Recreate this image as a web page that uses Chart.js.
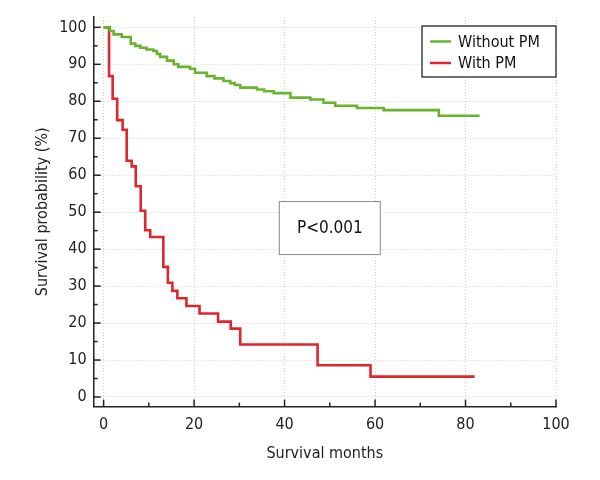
<!DOCTYPE html>
<html>
<head>
<meta charset="utf-8">
<script src="https://cdn.jsdelivr.net/npm/chart.js@4/dist/chart.umd.min.js"></script>
<style>
body { margin: 0; background: #fff; }
</style>
</head>
<body>
<canvas id="myChart" width="600" height="480"></canvas>
<script>
// Kaplan-Meier steps (months, survival %)
const monthsWithout = [0, 1.4, 2.2, 4, 6, 7, 8.1, 9.5, 11, 11.8, 12.5, 14, 15.5, 16.5, 19.1, 20.2, 22.8, 24.5, 26.5, 28, 29, 30.2, 33.9, 35.5, 37.6, 41.3, 45.7, 48.6, 51.2, 56, 61.9, 74.1, 83.1];
const survWithout  = [100, 99, 98.1, 97.4, 95.6, 95, 94.5, 94, 93.6, 92.8, 92, 91, 90, 89.3, 88.8, 87.7, 86.8, 86.2, 85.5, 84.9, 84.4, 83.7, 83.2, 82.7, 82.2, 81, 80.5, 79.6, 78.8, 78.2, 77.6, 76.1, 76.1];

const monthsWith = [0, 1.2, 2.0, 3.0, 4.2, 5.1, 6.2, 7.1, 8.2, 9.2, 10.3, 13.2, 14.2, 15.2, 16.3, 18.3, 21.2, 25.3, 28.1, 30.2, 47.3, 59, 82];
const survWith   = [100, 86.8, 80.7, 74.9, 72.3, 63.9, 62.4, 57, 50.4, 45.1, 43.3, 35.2, 30.9, 28.7, 26.7, 24.6, 22.6, 20.4, 18.5, 14.2, 8.6, 5.5, 5.5];

const seriesNames = ["Without PM", "With PM"];
const seriesColors = ["#69b32f", "#e0262c"];
const xTicks = [0, 20, 40, 60, 80, 100];
const yTicks = [0, 10, 20, 30, 40, 50, 60, 70, 80, 90, 100];
const pText = "P<0.001";

const fam = "'Liberation Sans Narrow', 'DejaVu Sans Condensed', sans-serif";

function toPoints(xs, ys) {
    return xs.map((x, i) => ({x: x, y: ys[i]}));
}

// inward tick marks, legend box and p-value box
const extras = {
    id: 'extras',
    afterDraw(chart) {
        const ctx = chart.ctx;
        const xs = chart.scales.x, ys = chart.scales.y;
        const area = chart.chartArea;
        ctx.save();
        ctx.strokeStyle = '#222';
        ctx.lineWidth = 1.5;
        for (let v = 0; v <= 100; v += 10) {
            const px = xs.getPixelForValue(v);
            const len = (v % 20 === 0) ? 7 : 4;
            ctx.beginPath();
            ctx.moveTo(px, area.bottom);
            ctx.lineTo(px, area.bottom - len);
            ctx.stroke();
        }
        for (let v = 0; v <= 100; v += 5) {
            const py = ys.getPixelForValue(v);
            const len = (v % 10 === 0) ? 7 : 4;
            ctx.beginPath();
            ctx.moveTo(area.left, py);
            ctx.lineTo(area.left + len, py);
            ctx.stroke();
        }

        // legend
        const lw = 134, lh = 51;
        const lx = area.right - lw, ly = area.top + 9;
        ctx.fillStyle = '#fff';
        ctx.fillRect(lx, ly, lw, lh);
        ctx.strokeStyle = '#111';
        ctx.lineWidth = 1.2;
        ctx.strokeRect(lx, ly, lw, lh);
        ctx.font = "16px " + fam;
        ctx.textBaseline = 'middle';
        chart.data.datasets.forEach((ds, i) => {
            const cy = ly + 15.5 + i * 21.5;
            ctx.strokeStyle = ds.borderColor;
            ctx.lineWidth = 2.5;
            ctx.beginPath();
            ctx.moveTo(lx + 8, cy);
            ctx.lineTo(lx + 29, cy);
            ctx.stroke();
            ctx.fillStyle = '#111';
            ctx.fillText(ds.label, lx + 36, cy + 1);
        });

        // p-value box
        const cx = xs.getPixelForValue(50), cy = ys.getPixelForValue(45.7);
        const bw = 101, bh = 53;
        ctx.fillStyle = '#fff';
        ctx.fillRect(cx - bw / 2, cy - bh / 2, bw, bh);
        ctx.strokeStyle = '#888';
        ctx.lineWidth = 1;
        ctx.strokeRect(cx - bw / 2, cy - bh / 2, bw, bh);
        ctx.fillStyle = '#111';
        ctx.textAlign = 'center';
        ctx.font = "17px " + fam;
        ctx.fillText(pText, cx, cy + 1);
        ctx.restore();
    }
};

const myChart = new Chart("myChart", {
    type: "scatter",
    data: {
        datasets: [
            {label: seriesNames[0], data: toPoints(monthsWithout, survWithout), borderColor: seriesColors[0]},
            {label: seriesNames[1], data: toPoints(monthsWith, survWith), borderColor: seriesColors[1]}
        ]
    },
    options: {
        responsive: false,
        animation: false,
        showLine: true,
        elements: {
            point: {radius: 0},
            line: {borderWidth: 2.6, stepped: 'before', fill: false}
        },
        layout: {padding: {left: 29, right: 44, top: 17, bottom: 13}},
        plugins: {
            legend: {display: false},
            tooltip: {enabled: false}
        },
        scales: {
            x: {
                type: 'linear',
                min: -2.2,
                max: 100,
                afterBuildTicks: s => { s.ticks = xTicks.map(v => ({value: v})); },
                grid: {color: '#cfcfcf', drawTicks: false},
                border: {display: true, color: '#222', width: 1.5, dash: [1, 2]},
                ticks: {color: '#222', padding: 9, maxRotation: 0, font: {family: fam, size: 16}},
                title: {display: true, text: 'Survival months', color: '#222', font: {family: fam, size: 16}, padding: {top: 0, bottom: 4}}
            },
            y: {
                type: 'linear',
                min: -2.6,
                max: 102.8,
                afterBuildTicks: s => { s.ticks = yTicks.map(v => ({value: v})); },
                grid: {color: '#cfcfcf', drawTicks: false},
                border: {display: true, color: '#222', width: 1.5, dash: [1, 2]},
                ticks: {color: '#222', padding: 7, font: {family: fam, size: 16}},
                title: {display: true, text: 'Survival probability (%)', color: '#222', font: {family: fam, size: 16}, padding: {top: 4, bottom: 0}}
            }
        }
    },
    plugins: [extras]
});
</script>
</body>
</html>
